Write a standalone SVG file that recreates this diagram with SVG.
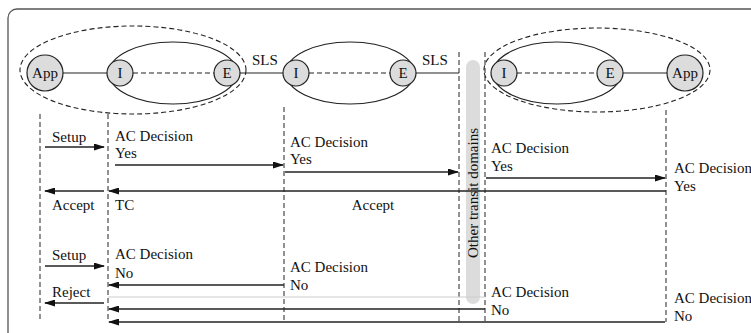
<svg xmlns="http://www.w3.org/2000/svg" width="751" height="333" viewBox="0 0 751 333" font-family="'Liberation Serif', 'DejaVu Serif', serif" font-size="15">
<style>
text{font-family:'Liberation Serif','DejaVu Serif',serif;font-size:15px;fill:#111}
.c text{text-anchor:middle}
.nd{fill:#dcdcdc;stroke:#222;stroke-width:1.2}
.sl{fill:none;stroke:#222;stroke-width:1.2}
.ds{fill:none;stroke:#222;stroke-width:1.1;stroke-dasharray:5 3}
.ll{fill:none;stroke:#222;stroke-width:1;stroke-dasharray:5 3}
.m{fill:none;stroke:#222;stroke-width:1.3;marker-end:url(#ah)}
</style>
<defs>
<marker id="ah" markerWidth="11" markerHeight="7" refX="10" refY="3.5" orient="auto" markerUnits="userSpaceOnUse">
<path d="M0,0 L11,3.5 L0,7 Z" fill="#111"/>
</marker>
</defs>
<rect x="8" y="9" width="770" height="340" rx="9" fill="none" stroke="#555" stroke-width="1.3"/>

<g id="domains">
<ellipse cx="133" cy="70" rx="113" ry="44" class="ds"/>
<ellipse cx="597" cy="70" rx="113" ry="42" class="ds"/>
<ellipse cx="173" cy="73" rx="64" ry="31" class="sl"/>
<ellipse cx="350" cy="73" rx="64" ry="31" class="sl"/>
<ellipse cx="557" cy="73" rx="64" ry="31" class="sl"/>
<rect x="466" y="60" width="14" height="244" rx="7" fill="#dcdcdc"/>
<text transform="translate(478,193) rotate(-90)" text-anchor="middle">Other transit domains</text>
</g>

<g id="links">
<line x1="63" y1="73" x2="107" y2="73" class="sl"/>
<line x1="133" y1="73" x2="214" y2="73" class="ds"/>
<line x1="240" y1="73" x2="283" y2="73" class="sl"/>
<line x1="309" y1="73" x2="390" y2="73" class="ds"/>
<line x1="416" y1="73" x2="459" y2="73" class="sl"/>
<line x1="517" y1="73" x2="597" y2="73" class="ds"/>
<line x1="623" y1="73" x2="667" y2="73" class="sl"/>
<text x="252" y="65">SLS</text>
<text x="422" y="65">SLS</text>
</g>

<g id="App1" class="c"><circle cx="45" cy="73" r="18" class="nd"/><text x="45" y="78">App</text></g>
<g id="I1" class="c"><circle cx="120" cy="73" r="13" class="nd"/><text x="120" y="78">I</text></g>
<g id="E1" class="c"><circle cx="227" cy="73" r="13" class="nd"/><text x="227" y="78">E</text></g>
<g id="I2" class="c"><circle cx="296" cy="73" r="13" class="nd"/><text x="296" y="78">I</text></g>
<g id="E2" class="c"><circle cx="403" cy="73" r="13" class="nd"/><text x="403" y="78">E</text></g>
<g id="I3" class="c"><circle cx="504" cy="73" r="13" class="nd"/><text x="504" y="78">I</text></g>
<g id="E3" class="c"><circle cx="610" cy="73" r="13" class="nd"/><text x="610" y="78">E</text></g>
<g id="App3" class="c"><circle cx="685" cy="73" r="18" class="nd"/><text x="685" y="78">App</text></g>

<g id="lifelines">
<line x1="40" y1="114" x2="40" y2="322" class="ll"/>
<line x1="108" y1="114" x2="108" y2="322" class="ll"/>
<line x1="284" y1="107" x2="284" y2="323" class="ll"/>
<line x1="459" y1="52" x2="459" y2="323" class="ll"/>
<line x1="485" y1="52" x2="485" y2="323" class="ll"/>
<line x1="666" y1="110" x2="666" y2="322" class="ll"/>
</g>

<g id="connectors">
<line x1="45" y1="147" x2="104" y2="147" class="m"/>
<line x1="115" y1="165" x2="283" y2="165" class="m"/>
<line x1="285" y1="172" x2="458" y2="172" class="m"/>
<line x1="486" y1="178" x2="665" y2="178" class="m"/>
<line x1="666" y1="191" x2="109" y2="191" class="m"/>
<line x1="104" y1="191" x2="45" y2="191" class="m"/>

<line x1="45" y1="266" x2="104" y2="266" class="m"/>
<line x1="284" y1="285" x2="109" y2="285" class="m"/>
<line x1="108" y1="297" x2="485" y2="297" stroke="#ccc" stroke-width="1"/>
<line x1="104" y1="303" x2="45" y2="303" class="m"/>
<line x1="485" y1="309" x2="109" y2="309" class="m"/>
<line x1="665" y1="322" x2="109" y2="322" class="m"/>
</g>

<g id="labels">
<text x="52" y="142">Setup</text>
<text x="115" y="141">AC Decision</text>
<text x="115" y="158">Yes</text>
<text x="290" y="147">AC Decision</text>
<text x="290" y="164">Yes</text>
<text x="491" y="153">AC Decision</text>
<text x="491" y="171">Yes</text>
<text x="674" y="173">AC Decision</text>
<text x="674" y="191">Yes</text>
<text x="52" y="210">Accept</text>
<text x="115" y="210">TC</text>
<text x="373" y="210" text-anchor="middle">Accept</text>

<text x="52" y="260">Setup</text>
<text x="115" y="259">AC Decision</text>
<text x="115" y="278">No</text>
<text x="290" y="272">AC Decision</text>
<text x="290" y="290">No</text>
<text x="52" y="297">Reject</text>
<text x="491" y="297">AC Decision</text>
<text x="491" y="315">No</text>
<text x="674" y="303">AC Decision</text>
<text x="674" y="321">No</text>
</g>
</svg>
